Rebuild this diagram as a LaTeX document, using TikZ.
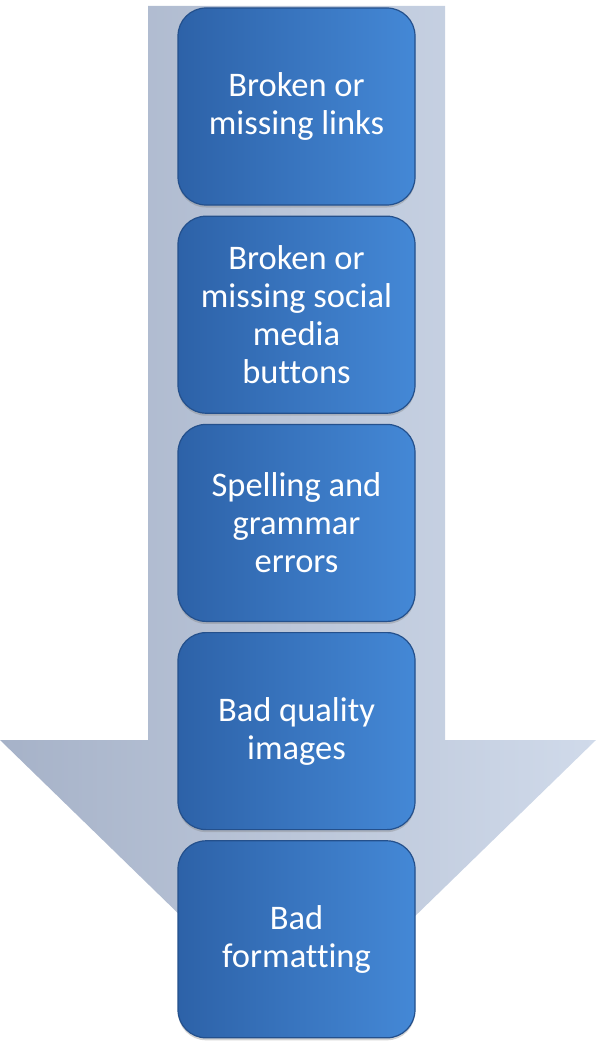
\documentclass[tikz,border=0pt]{standalone}
\usepackage{fontspec}
\setmainfont{Carlito}[RawFeature={-liga;-clig;-calt}]
\usetikzlibrary{positioning,shadows}

\definecolor{arrowdark}{RGB}{166,178,200}
\definecolor{arrowlight}{RGB}{208,218,234}
\definecolor{boxdark}{RGB}{45,98,168}
\definecolor{boxlight}{RGB}{68,136,214}
\definecolor{boxedge}{RGB}{36,80,140}

\begin{document}
\begin{tikzpicture}[x=1pt, y=-1pt, node distance=10pt, box/.style={draw=boxedge, line width=1.2pt, rounded corners=28pt, left color=boxdark, right color=boxlight, text=white, align=center, minimum width=237pt, minimum height=197pt, font=\fontsize{34.5}{38}\selectfont, drop shadow={opacity=0.35, shadow xshift=0pt, shadow yshift=-2.5pt}}]
\useasboundingbox (0,0) rectangle (596,1041);
% the big arrow behind the steps
\shade[left color=arrowdark, right color=arrowlight] (148,6) -- (445,6) -- (445,740) -- (596,740) -- (298,1030) -- (0,740) -- (148,740) -- cycle;
\node[box](links) at (296.5,106.5){Broken or\\missing links};
\node[box,below=of links](social){Broken or\\missing social\\media\\buttons};
\node[box,below=of social](spelling){Spelling and\\grammar\\errors};
\node[box,below=of spelling](images){Bad quality\\images};
\node[box,below=of images](formatting){Bad\\formatting};
\end{tikzpicture}
\end{document}
